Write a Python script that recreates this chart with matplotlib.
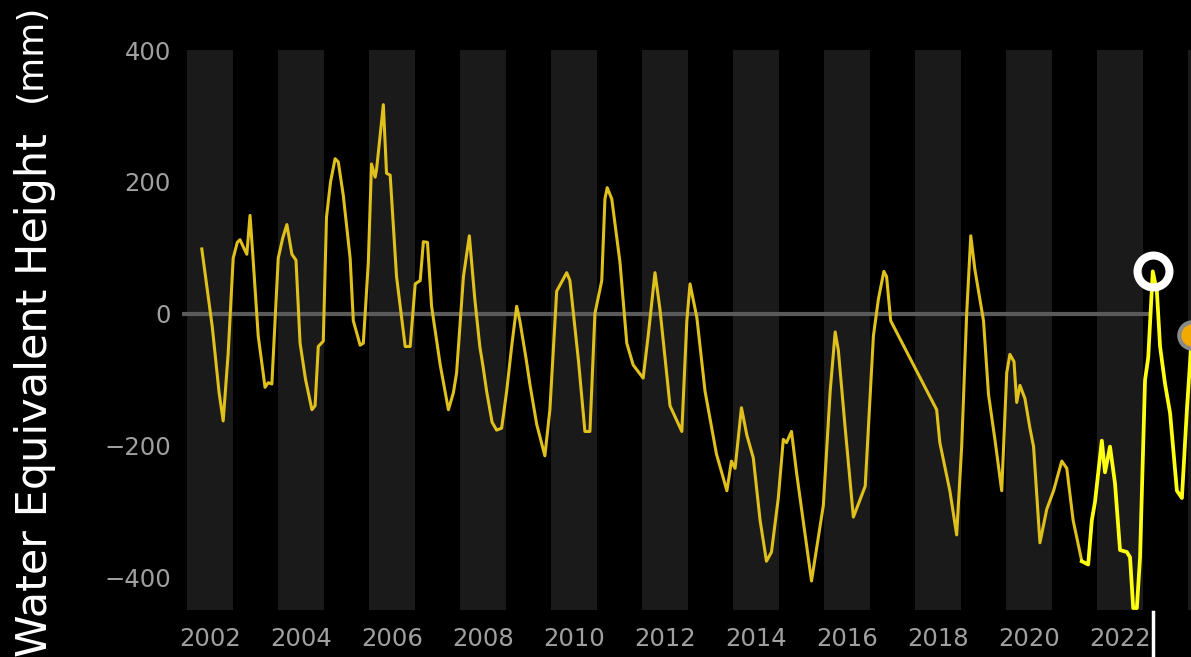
import matplotlib
matplotlib.use("Agg")
import matplotlib.pyplot as plt
import matplotlib.transforms as mtransforms

# monthly-ish water equivalent height (mm), decimal years
years_hist = [2002.32, 2002.55, 2002.70, 2002.79, 2002.90, 2003.01, 2003.10, 2003.16,
              2003.24, 2003.31, 2003.38, 2003.45, 2003.56, 2003.71, 2003.78, 2003.86,
              2004.00, 2004.10, 2004.19, 2004.30, 2004.39, 2004.48, 2004.60, 2004.74,
              2004.81, 2004.88, 2004.99, 2005.06, 2005.15, 2005.25, 2005.32, 2005.43,
              2005.58, 2005.65, 2005.80, 2005.87, 2005.98, 2006.05, 2006.13, 2006.16,
              2006.31, 2006.35, 2006.38, 2006.46, 2006.60, 2006.79, 2006.90, 2007.01,
              2007.12, 2007.19, 2007.28, 2007.37, 2007.56, 2007.74, 2007.85, 2007.92,
              2008.07, 2008.20, 2008.32, 2008.43, 2008.50, 2008.58, 2008.70, 2008.80,
              2008.91, 2009.02, 2009.13, 2009.24, 2009.31, 2009.45, 2009.53, 2009.68,
              2009.86, 2009.97, 2010.12, 2010.34, 2010.41, 2010.60, 2010.74, 2010.85,
              2010.96, 2011.11, 2011.18, 2011.23, 2011.33, 2011.51, 2011.66, 2011.80,
              2012.02, 2012.13, 2012.28, 2012.39, 2012.61, 2012.87, 2012.98, 2013.05,
              2013.20, 2013.38, 2013.63, 2013.86, 2013.96, 2014.04, 2014.18, 2014.30,
              2014.44, 2014.59, 2014.73, 2014.84, 2014.99, 2015.10, 2015.17, 2015.28,
              2015.39, 2015.58, 2015.72, 2015.98, 2016.13, 2016.24, 2016.31, 2016.46,
              2016.64, 2016.90, 2017.08, 2017.19, 2017.31, 2017.37, 2017.46, 2018.47,
              2018.54, 2018.76, 2018.91, 2019.02, 2019.13, 2019.22, 2019.31, 2019.50,
              2019.61, 2019.75, 2019.90, 2020.01, 2020.08, 2020.17, 2020.23, 2020.30,
              2020.41, 2020.52, 2020.60, 2020.74, 2020.89, 2021.04, 2021.22, 2021.33,
              2021.47, 2021.66]
weh_hist = [98, -20, -120, -163, -60, 84, 108, 112,
            100, 90, 149, 80, -34, -112, -105, -107,
            84, 115, 135, 90, 81, -45, -100, -146,
            -140, -50, -42, 146, 200, 235, 230, 179,
            84, -11, -48, -45, 78, 227, 207, 218,
            317, 258, 213, 210, 56, -50, -50, 45,
            50, 109, 108, 11, -78, -146, -120, -90,
            56, 118, 22, -50, -80, -118, -165, -177,
            -174, -118, -50, 11, -11, -70, -107, -168,
            -216, -146, 34, 62, 50, -73, -179, -179,
            0, 50, 174, 191, 174, 78, -45, -78,
            -98, -34, 62, 6, -140, -179, -11, 45,
            -6, -118, -213, -269, -224, -235, -143, -185,
            -219, -314, -376, -362, -280, -191, -196, -179,
            -241, -336, -406, -291, -118, -28, -56, -174,
            -309, -262, -34, 22, 64, 56, -11, -146,
            -196, -269, -336, -202, 0, 118, 67, -11,
            -123, -191, -269, -90, -62, -73, -135, -109,
            -129, -174, -202, -348, -297, -269, -224, -235,
            -314, -376]

years_recent = [2021.66, 2021.80, 2021.88, 2021.95, 2022.10, 2022.17, 2022.28, 2022.39,
                2022.50, 2022.65, 2022.72, 2022.79, 2022.87, 2022.94, 2023.05, 2023.12,
                2023.22, 2023.31, 2023.38, 2023.49, 2023.60, 2023.75, 2023.86, 2023.97,
                2024.08]
weh_recent = [-376, -381, -314, -286, -193, -241, -202, -258,
              -359, -362, -370, -447, -447, -370, -101, -67,
              64, 34, -50, -107, -151, -269, -280, -146,
              -32]

current = (2023.22, 64)
next_point = (2024.08, -32)

tick_years = list(range(2002, 2023, 2))
tick_labels = [str(y) for y in tick_years]
y_ticks = [-400, -200, 0, 200, 400]

fig = plt.figure(figsize=(11.91, 6.57), dpi=100, facecolor="black")
ax = fig.add_axes([182 / 1191, 47 / 657, 1 - 182 / 1191, 560 / 657])
ax.set_facecolor("black")

# shaded even years
for y in range(2002, 2026, 2):
    ax.axvspan(y, y + 1, color="#1a1a1a", lw=0, zorder=0)

ax.plot([2001.8, 2023.09], [0, 0], color="#5a5a5a", lw=3, zorder=1)

ax.plot(years_hist, weh_hist, color="#dfc01c", lw=2.2, zorder=3,
        solid_joinstyle="round")
ax.plot(years_recent, weh_recent, color="#ffff14", lw=2.7, zorder=4,
        solid_joinstyle="round")

ax.plot(*current, marker="o", markersize=23, markerfacecolor="none",
        markeredgecolor="white", markeredgewidth=5.8, zorder=5)
ax.plot(*next_point, marker="o", markersize=19, markerfacecolor="#f2a900",
        markeredgecolor="#8a8a8a", markeredgewidth=3, zorder=5, clip_on=False)

# time cursor below the axis
trans = mtransforms.blended_transform_factory(ax.transData, ax.transAxes)
ax.plot([current[0], current[0]], [-0.004, -0.09], color="white", lw=2.5,
        transform=trans, clip_on=False, zorder=6)

ax.set_xlim(2001.885, 2024.06)
ax.set_ylim(-450, 400)
ax.set_xticks([y + 0.5 for y in tick_years])
ax.set_xticklabels(tick_labels)
ax.set_yticks(y_ticks)
ax.set_yticklabels(["\u2212400", "\u2212200", "0", "200", "400"])
ax.tick_params(length=0, colors="#a0a0a0", labelsize=17.5)
ax.tick_params(axis="x", pad=12)
ax.tick_params(axis="y", pad=8)
for s in ax.spines.values():
    s.set_visible(False)

fig.text(35 / 1191, 0.0, "Water Equivalent Height", rotation=90,
         ha="center", va="bottom", color="white", fontsize=31)
fig.text(31 / 1191, 1 - 4 / 657, "(mm)", rotation=90,
         ha="center", va="top", color="white", fontsize=26)

fig.savefig("out.png", dpi=100, facecolor="black")
